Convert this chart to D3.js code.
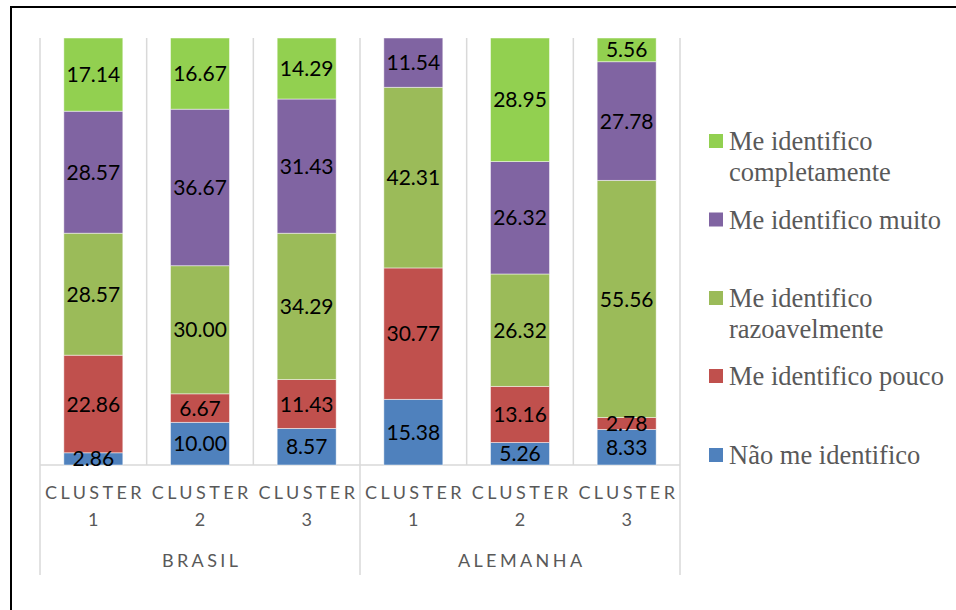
<!DOCTYPE html>
<html>
<head>
<meta charset="utf-8">
<script src="https://cdn.jsdelivr.net/npm/d3@7"></script>
<style>
  body { margin: 0; background: #fff; }
  svg { display: block; }
</style>
</head>
<body>
<svg id="chart" width="956" height="610"></svg>
<script>
// Category levels of the axis
const groups = ["BRASIL", "ALEMANHA"];
const clusters = ["1", "2", "3"];

// Percentages per bar (Brasil C1..C3, Alemanha C1..C3)
const naoMeIdentifico = [2.86, 10.00, 8.57, 15.38, 5.26, 8.33];
const pouco           = [22.86, 6.67, 11.43, 30.77, 13.16, 2.78];
const razoavelmente   = [28.57, 30.00, 34.29, 42.31, 26.32, 55.56];
const muito           = [28.57, 36.67, 31.43, 11.54, 26.32, 27.78];
const completamente   = [17.14, 16.67, 14.29, 0, 28.95, 5.56];

const seriesKeys = ["nao", "pouco", "razo", "muito", "comp"];
const seriesColors = ["#4f81bd", "#c0504d", "#9bbb59", "#8064a2", "#92d050"];
const legendLines = {
  comp: ["Me identifico", "completamente"],
  muito: ["Me identifico muito"],
  razo: ["Me identifico", "razoavelmente"],
  pouco: ["Me identifico pouco"],
  nao: ["Não me identifico"]
};

const rows = naoMeIdentifico.map((_, i) => ({
  idx: i,
  group: groups[Math.floor(i / clusters.length)],
  cluster: clusters[i % clusters.length],
  nao: naoMeIdentifico[i],
  pouco: pouco[i],
  razo: razoavelmente[i],
  muito: muito[i],
  comp: completamente[i]
}));

const svg = d3.select("#chart");

// outer frame
svg.append("rect")
  .attr("x", 11).attr("y", 7).attr("width", 1000).attr("height", 1000)
  .attr("fill", "none").attr("stroke", "#000").attr("stroke-width", 2);

const plot = { left: 40, right: 680, top: 38, bottom: 465 };

const x = d3.scaleBand()
  .domain(rows.map(d => d.idx))
  .range([plot.left, plot.right])
  .paddingInner(0.447)
  .paddingOuter(0.2235);

const y = d3.scaleLinear().domain([0, 1]).range([plot.bottom, plot.top]);

const color = d3.scaleOrdinal().domain(seriesKeys).range(seriesColors);

const stacked = d3.stack()
  .keys(seriesKeys)
  .offset(d3.stackOffsetExpand)(rows);

const gridColor = "#d9d9d9";
const step = x.step();

// vertical gridlines at category boundaries
const boundaries = d3.range(rows.length + 1).map(i => plot.left + i * step);
svg.append("g").selectAll("line")
  .data(boundaries)
  .join("line")
  .attr("x1", d => d).attr("x2", d => d)
  .attr("y1", plot.top)
  .attr("y2", (d, i) => (i % clusters.length === 0) ? 575 : plot.bottom)
  .attr("stroke", gridColor)
  .attr("stroke-width", 1.5);

// category axis line
svg.append("line")
  .attr("x1", plot.left).attr("x2", plot.right)
  .attr("y1", plot.bottom).attr("y2", plot.bottom)
  .attr("stroke", gridColor).attr("stroke-width", 1.5);

// stacked bars
const layers = svg.append("g").selectAll("g")
  .data(stacked)
  .join("g")
  .attr("fill", d => color(d.key));

layers.selectAll("rect")
  .data(d => d)
  .join("rect")
  .attr("x", d => x(d.data.idx))
  .attr("width", x.bandwidth())
  .attr("y", d => y(d[1]))
  .attr("height", d => y(d[0]) - y(d[1]))
  .attr("stroke", "rgba(255,255,255,0.6)")
  .attr("stroke-width", 0.8);

// value labels
const fmt = d3.format(".2f");
const labels = svg.append("g")
  .attr("text-anchor", "middle");

stacked.forEach(layer => {
  labels.selectAll(null)
    .data(layer.filter(d => d.data[layer.key] > 0))
    .join("text")
    .style("font-family", "Lato, 'Open Sans', sans-serif")
    .style("font-size", "21px")
    .attr("fill", "#000")
    .attr("x", d => x(d.data.idx) + x.bandwidth() / 2)
    .attr("y", d => (y(d[0]) + y(d[1])) / 2)
    .attr("dy", "0.36em")
    .text(d => fmt(d.data[layer.key]));
});

// axis labels: cluster level then group level
const ls = 3.4;
const axisText = svg.append("g")
  .attr("text-anchor", "middle");

function axisLabel(xPos, yPos, txt) {
  axisText.append("text")
    .style("font-family", "Lato, 'Open Sans', sans-serif")
    .style("font-size", "18px")
    .style("letter-spacing", ls + "px")
    .attr("fill", "#595959")
    .attr("x", xPos + ls / 2).attr("y", yPos)
    .text(txt);
}

rows.forEach(d => {
  const cx = x(d.idx) + x.bandwidth() / 2;
  axisLabel(cx, 499, "CLUSTER");
  axisLabel(cx, 526, d.cluster);
});

groups.forEach((g, gi) => {
  const x0 = plot.left + gi * clusters.length * step;
  const x1 = x0 + clusters.length * step;
  axisLabel((x0 + x1) / 2, 567, g);
});

// legend
const legendOrder = seriesKeys.slice().reverse();
const legendY = [141, 219.5, 298, 376, 455];
const legend = svg.append("g");

legendOrder.forEach((k, i) => {
  const cy = legendY[i];
  legend.append("rect")
    .attr("x", 709).attr("y", cy - 7)
    .attr("width", 14).attr("height", 14)
    .attr("fill", color(k));
  const t = legend.append("text")
    .style("font-family", "'Liberation Serif', 'Times New Roman', serif")
    .style("font-size", "26.5px")
    .attr("fill", "#595959")
    .attr("x", 729).attr("y", cy + 9);
  legendLines[k].forEach((line, li) => {
    t.append("tspan")
      .attr("x", 729)
      .attr("dy", li === 0 ? 0 : 31)
      .text(line);
  });
});
</script>
</body>
</html>
